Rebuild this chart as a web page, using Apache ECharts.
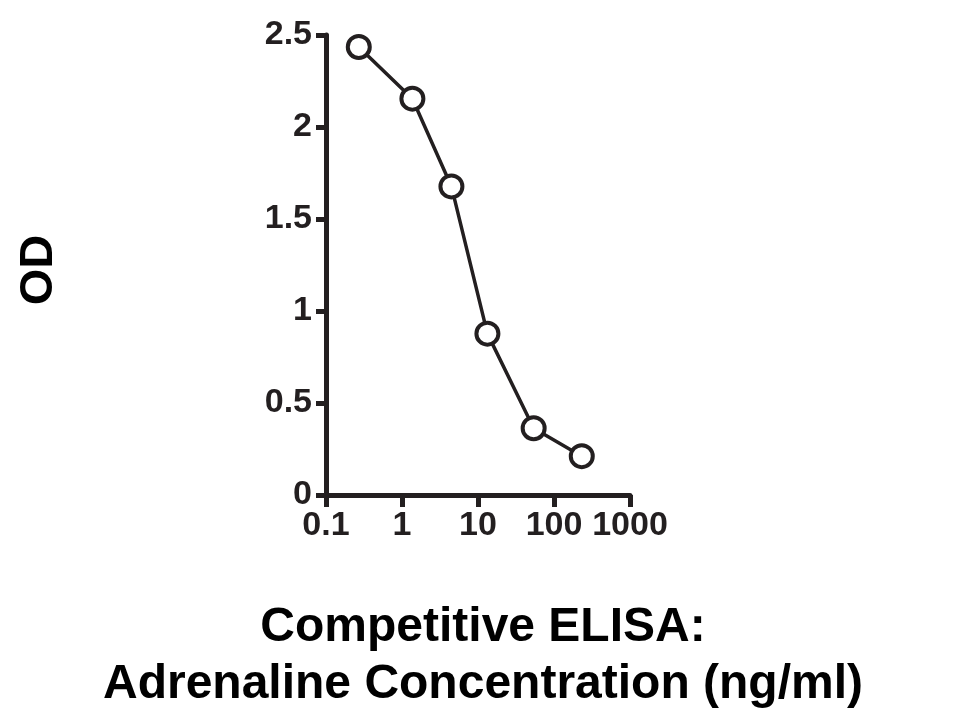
<!DOCTYPE html>
<html>
<head>
<meta charset="utf-8">
<script src="https://cdn.jsdelivr.net/npm/echarts@6/dist/echarts.min.js"></script>
<style>html,body{margin:0;padding:0;background:#fff;}#c{width:966px;height:714px;}</style>
</head>
<body>
<div id="c"></div>
<script>
const concentrations = [0.27, 1.37, 4.47, 13.3, 54, 232];
const odValues = [2.435, 2.154, 1.677, 0.877, 0.363, 0.211];
const yTicks = [0, 0.5, 1, 1.5, 2, 2.5];
const xTickLabels = ['0.1', '1', '10', '100', '1000'];
const titleLines = ['Competitive ELISA:', 'Adrenaline Concentration (ng/ml)'];
const yName = 'OD';

const ink = '#231f20';
const font = '"Liberation Sans", Arial, Helvetica, sans-serif';
const chart = echarts.init(document.getElementById('c'), null, {renderer: 'canvas'});
chart.setOption({
  animation: false,
  backgroundColor: '#fff',
  title: {
    text: titleLines.join('\n'),
    left: 'center',
    top: 594,
    textStyle: {fontFamily: font, fontWeight: 'bold', fontSize: 48, color: '#000', lineHeight: 57}
  },
  graphic: [{
    type: 'text',
    x: 39, y: 270,
    rotation: Math.PI / 2,
    style: {text: yName, fontFamily: font, fontWeight: 'bold', fontSize: 47, fill: '#000', align: 'center', verticalAlign: 'middle'}
  }],
  grid: {left: 326, right: 336, top: 35, bottom: 219, containLabel: false},
  xAxis: {
    type: 'log', logBase: 10, min: 0.1, max: 1000,
    axisLine: {show: true, onZero: false, lineStyle: {color: ink, width: 5}},
    axisTick: {show: true, length: 12, lineStyle: {color: ink, width: 5}},
    minorTick: {show: false},
    splitLine: {show: false},
    axisLabel: {
      margin: 14, fontFamily: font, fontWeight: 'bold', fontSize: 34, color: ink,
      formatter: function (v) {
        const i = Math.round(Math.log10(v)) + 1;
        return xTickLabels[i] !== undefined ? xTickLabels[i] : '';
      }
    }
  },
  yAxis: {
    type: 'value', min: yTicks[0], max: yTicks[yTicks.length - 1], interval: yTicks[1] - yTicks[0],
    axisLine: {show: true, lineStyle: {color: ink, width: 5}},
    axisTick: {show: true, length: 10, lineStyle: {color: ink, width: 5}},
    splitLine: {show: false},
    axisLabel: {margin: 14, fontFamily: font, fontWeight: 'bold', fontSize: 34, color: ink, padding: [6, 0, 0, 0]}
  },
  series: [{
    type: 'line',
    data: concentrations.map((c, i) => [c, odValues[i]]),
    symbol: 'circle',
    symbolSize: 22,
    showSymbol: true,
    lineStyle: {color: ink, width: 3.5},
    itemStyle: {color: '#fff', borderColor: ink, borderWidth: 4},
    z: 3
  }]
});
</script>
</body>
</html>
